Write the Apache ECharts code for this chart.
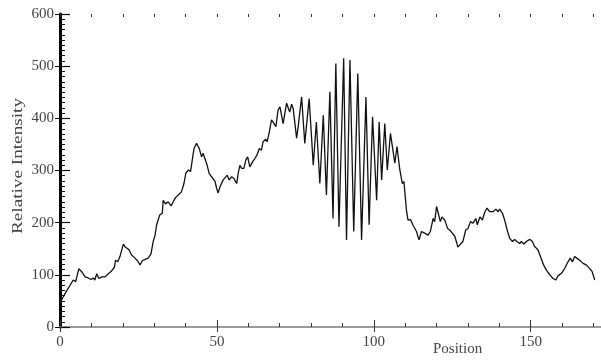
<!DOCTYPE html>
<html>
<head>
<meta charset="utf-8">
<script src="https://cdn.jsdelivr.net/npm/echarts@6/dist/echarts.min.js"></script>
<style>
  html, body { margin: 0; padding: 0; background: #fff; }
  #chart { width: 601px; height: 361px; }
</style>
</head>
<body>
<div id="chart"></div>
<script>
// positions along the scan and the relative intensity
const positions = [
  0, 0.8, 1.6, 2.4, 3.2, 4.2, 5.0, 6.0, 6.9, 8.0, 9.0, 9.9, 10.6, 11.1, 11.7, 12.4, 13.3, 14.3,
  15.4, 16.5, 17.3, 17.7, 18.4, 19.1, 20.2, 20.7, 21.2, 22.0, 22.8, 23.9, 24.7, 25.5, 26.2, 27.3,
  28.1, 29.0, 29.7, 30.3, 30.8, 31.8, 32.6, 32.9, 33.6, 34.5, 35.4, 36.1, 36.8, 37.7, 38.7, 39.5,
  40.1, 40.9, 41.6, 42.3, 42.7, 43.5, 44.4, 45.1, 45.6, 46.2, 46.9, 47.5, 48.3, 48.8, 49.4, 49.9,
  50.4, 51.0, 51.5, 52.0, 52.5, 53.3, 53.9, 54.7, 55.4, 56.3, 56.8, 57.3, 57.9, 58.6, 59.2, 59.8,
  60.5, 61.4, 62.1, 62.8, 63.5, 64.2, 64.7, 65.6, 66.0, 66.7, 67.4, 68.2, 68.8, 69.5, 70.1, 71.1,
  72.2, 73.2, 73.8, 74.3, 75.4, 75.9, 77.0, 78.0, 79.4, 80.7, 81.7, 82.8, 83.9, 84.9, 86.0, 87.0,
  87.9, 88.9, 90.4, 91.3, 92.4, 93.6, 94.9, 96.1, 97.5, 98.5, 99.6, 100.9, 101.7, 102.5, 103.5,
  104.3, 105.3, 106.7, 107.4, 108.3, 109.1, 109.6, 110.4, 110.9, 111.7, 112.5, 113.6, 114.4, 115.2,
  116.2, 117.3, 118.0, 118.9, 119.4, 120.0, 120.5, 121.2, 121.7, 122.6, 123.5, 124.2, 125.0, 125.8,
  126.3, 126.8, 127.6, 128.4, 129.3, 130.0, 130.8, 131.6, 132.5, 133.0, 133.8, 134.6, 135.4, 136.1,
  136.9, 138.0, 138.9, 139.6, 140.1, 141.0, 141.7, 142.5, 143.3, 144.2, 144.9, 145.6, 146.5, 147.0,
  147.8, 148.6, 149.7, 150.5, 151.3, 152.3, 153.1, 154.1, 155.0, 156.1, 157.1, 158.0, 158.7, 159.8,
  160.8, 161.9, 162.6, 163.3, 164.0, 164.7, 165.6, 166.7, 167.7, 168.8, 169.6, 170.4
];
const intensity = [
  45, 55, 64, 72, 80, 90, 87, 112, 106, 96, 94, 91, 94, 90, 102, 93, 96, 96,
  102, 108, 114, 128, 125, 135, 159, 154, 155, 148, 138, 132, 127, 119, 127, 130,
  132, 140, 164, 176, 196, 215, 218, 243, 236, 240, 232, 240, 248, 253, 259, 275,
  295, 301, 298, 326, 342, 352, 342, 326, 333, 336, 310, 295, 288, 291, 279, 266,
  257, 269, 266, 282, 279, 291, 282, 288, 285, 275, 295, 310, 304, 304, 320, 326,
  307, 317, 323, 330, 342, 339, 355, 360, 355, 374, 397, 390, 384, 416, 422, 390,
  429, 412, 427, 419, 362, 384, 441, 352, 438, 310, 393, 275, 406, 253, 451, 208,
  505, 192, 515, 167, 512, 183, 486, 167, 441, 196, 403, 243, 393, 282, 390,
  301, 371, 314, 346, 301, 275, 279, 224, 205, 206, 195, 183, 167, 183,
  180, 176, 183, 208, 202, 231, 228, 202, 211, 205, 189, 186, 180, 174,
  164, 153, 159, 164, 186, 189, 202, 199, 208, 196, 211, 205, 221, 228,
  221, 221, 226, 221, 226, 218, 205, 186, 170, 164, 168, 164, 160, 164,
  159, 164, 168, 164, 154, 148, 135, 119, 109, 100, 93, 90, 98, 103,
  112, 125, 132, 125, 135, 132, 128, 122, 119, 112, 106, 90
];
const xMin = 0, xMax = 172.4;
const yMin = 0, yMax = 600;

const serif = 'Liberation Serif';
const textGray = '#444';

const chart = echarts.init(document.getElementById('chart'));

function plainX(pos, interval, tickLen, lineOpt) {
  return {
    type: 'value', position: pos, min: xMin, max: xMax, interval: interval,
    axisLine: lineOpt || { show: false },
    axisTick: { inside: true, length: tickLen, lineStyle: { color: '#333', width: 1 } },
    axisLabel: { show: false },
    splitLine: { show: false }
  };
}
function plainY(pos, interval, tickLen) {
  return {
    type: 'value', position: pos, min: yMin, max: yMax, interval: interval,
    axisLine: { show: false },
    axisTick: { inside: true, length: tickLen, lineStyle: { color: '#111', width: 1 } },
    axisLabel: { show: false },
    splitLine: { show: false }
  };
}

chart.setOption({
  animation: false,
  backgroundColor: '#fff',
  grid: { left: 60, right: 0, top: 14, bottom: 34, containLabel: false, outerBoundsMode: 'none' },
  xAxis: [
    {
      type: 'value', position: 'bottom', min: xMin, max: xMax, interval: 50,
      axisLine: { lineStyle: { color: '#555', width: 1.5 } },
      axisTick: { inside: true, length: 7, lineStyle: { color: '#333', width: 1 } },
      axisLabel: { showMaxLabel: false, margin: 8, color: textGray, fontFamily: serif, fontSize: 15 },
      splitLine: { show: false }
    },
    plainX('bottom', 10, 4),
    plainX('top', 50, 5, { show: true, lineStyle: { color: '#999', width: 2 } }),
    plainX('top', 10, 3)
  ],
  yAxis: [
    {
      type: 'value', position: 'left', min: yMin, max: yMax, interval: 100,
      axisLine: { lineStyle: { color: '#000', width: 3 } },
      axisTick: { inside: true, length: 10, lineStyle: { color: '#000', width: 1.2 } },
      axisLabel: { margin: 6, color: textGray, fontFamily: serif, fontSize: 15 },
      splitLine: { show: false }
    },
    plainY('left', 10, 5),
    plainY('right', 100, 5)
  ],
  graphic: [
    {
      type: 'text', left: 433, top: 342,
      style: { text: 'Position', font: '15px "Liberation Serif"', fill: textGray }
    },
    {
      // the y title in the original is stretched along its length
      type: 'text', x: 18, y: 166, rotation: Math.PI / 2, scaleX: 1.28,
      style: {
        text: 'Relative Intensity', font: '15px "Liberation Serif"', fill: textGray,
        align: 'center', verticalAlign: 'middle'
      }
    }
  ],
  series: [
    {
      type: 'line',
      xAxisIndex: 0, yAxisIndex: 0,
      data: positions.map((p, i) => [p, intensity[i]]),
      showSymbol: false,
      lineStyle: { color: '#111', width: 1.3 }
    }
  ]
});
</script>
</body>
</html>
